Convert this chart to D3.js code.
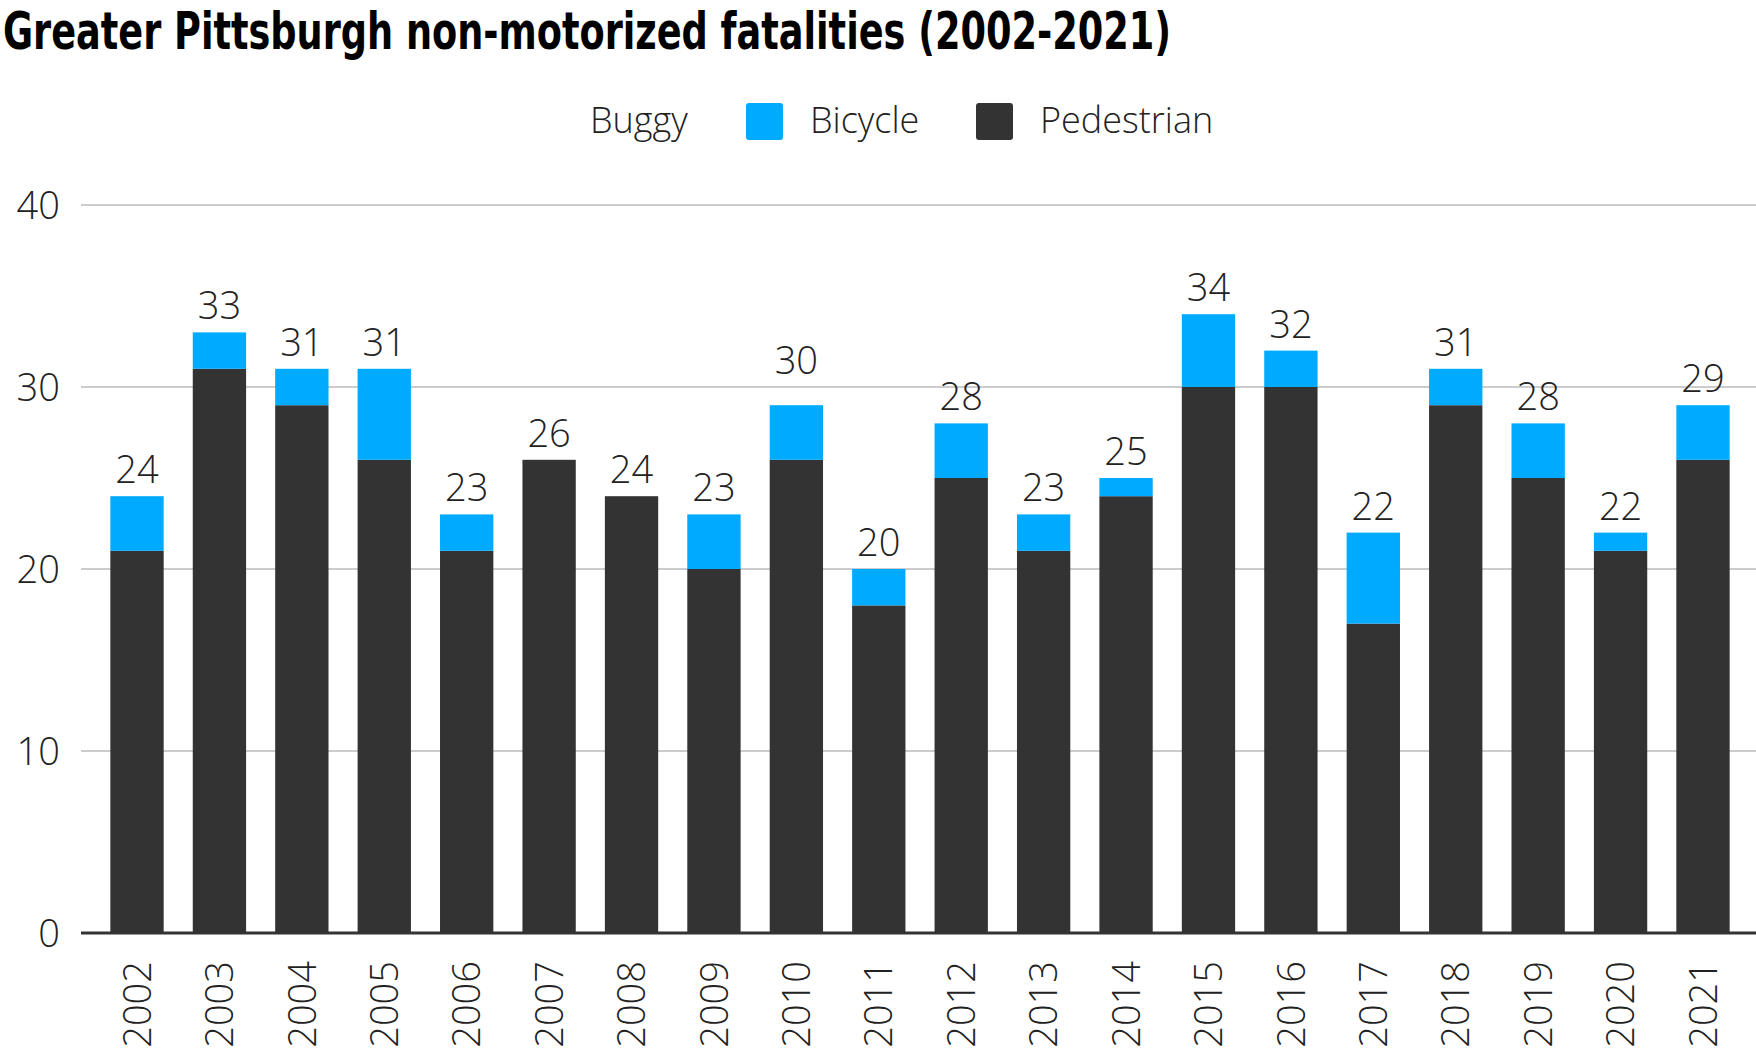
<!DOCTYPE html>
<html>
<head>
	<meta charset="utf-8">
	<title>Greater Pittsburgh non-motorized fatalities</title>
	<script src="https://d3js.org/d3.v7.min.js"></script>
	<style>
		body { margin: 0; background: #fff; }
		text { font-family: "Open Sans", sans-serif; font-weight: 300; fill: #222; }
	</style>
</head>
<body>
	<svg width="1756" height="1057"></svg>
	<script>
		// data
		const years = ["2002","2003","2004","2005","2006","2007","2008","2009","2010","2011",
		               "2012","2013","2014","2015","2016","2017","2018","2019","2020","2021"];
		const pedestrian = [21,31,29,26,21,26,24,20,26,18,25,21,24,30,30,17,29,25,21,26];
		const bicycle    = [3,2,2,5,2,0,0,3,3,2,3,2,1,4,2,5,2,3,1,3];
		const buggy      = [0,0,0,0,0,0,0,0,1,0,0,0,0,0,0,0,0,0,0,0];
		const yTicks = [0, 10, 20, 30, 40];

		const seriesKeys = ["Pedestrian", "Bicycle", "Buggy"];
		// buggy has no visible colour in the original
		const colors = { Pedestrian: "#333333", Bicycle: "#00aaff", Buggy: "none" };
		const legendOrder = ["Buggy", "Bicycle", "Pedestrian"];
		const legendX = [526, 746, 976];

		const rows = years.map((y, i) => ({
			year: y, Pedestrian: pedestrian[i], Bicycle: bicycle[i], Buggy: buggy[i]
		}));

		const svg = d3.select("svg");

		// title
		svg.append("text")
			.attr("x", 3)
			.attr("y", 49)
			.attr("textLength", 1168)
			.attr("lengthAdjust", "spacingAndGlyphs")
			.style("font-family", "'Liberation Sans Narrow', 'DejaVu Sans Condensed', 'Roboto Condensed', sans-serif")
			.style("font-weight", 700)
			.style("font-size", "52px")
			.style("fill", "#000")
			.text("Greater Pittsburgh non-motorized fatalities (2002-2021)");

		// scales
		const x = d3.scaleBand()
			.domain(years)
			.range([81, 1759])
			.paddingInner(0.353)
			.paddingOuter(0.356);

		const y = d3.scaleLinear()
			.domain([0, 40])
			.range([933, 205]);

		// gridlines
		svg.append("g")
			.selectAll("line")
			.data(yTicks.filter(d => d > 0))
			.join("line")
			.attr("x1", 81).attr("x2", 1756)
			.attr("y1", d => y(d)).attr("y2", d => y(d))
			.attr("stroke", "#cccccc")
			.attr("stroke-width", 2);

		// y labels
		const yAxis = svg.append("g")
			.attr("transform", "translate(60,0)")
			.call(d3.axisLeft(y).tickValues(yTicks).tickSize(0).tickPadding(0));
		yAxis.select(".domain").remove();
		yAxis.selectAll("text")
			.style("font-size", "38px")
			.attr("dy", "0.36em");

		// stacked bars
		const stacked = d3.stack().keys(seriesKeys)(rows);

		svg.append("g")
			.selectAll("g")
			.data(stacked)
			.join("g")
			.attr("fill", d => colors[d.key])
			.selectAll("rect")
			.data(d => d)
			.join("rect")
			.attr("x", d => x(d.data.year))
			.attr("width", x.bandwidth())
			.attr("y", d => y(d[1]))
			.attr("height", d => y(d[0]) - y(d[1]));

		// zero line
		svg.append("line")
			.attr("x1", 81).attr("x2", 1756)
			.attr("y1", y(0)).attr("y2", y(0))
			.attr("stroke", "#333")
			.attr("stroke-width", 3);

		// totals above bars
		svg.append("g")
			.selectAll("text")
			.data(rows)
			.join("text")
			.attr("x", d => x(d.year) + x.bandwidth() / 2)
			.attr("y", d => y(d.Pedestrian + d.Bicycle + d.Buggy) - 13)
			.attr("text-anchor", "middle")
			.style("font-size", "38px")
			.text(d => d.Pedestrian + d.Bicycle + d.Buggy);

		// x labels, rotated
		const xAxis = svg.append("g")
			.attr("transform", "translate(0,961)")
			.call(d3.axisBottom(x).tickSize(0).tickPadding(0));
		xAxis.select(".domain").remove();
		xAxis.selectAll("text")
			.style("font-size", "38px")
			.attr("text-anchor", "end")
			.attr("transform", "rotate(-90)")
			.attr("x", 0)
			.attr("y", 0)
			.attr("dy", "0.36em");

		// legend
		const legend = svg.append("g");
		legendOrder.forEach((key, i) => {
			legend.append("rect")
				.attr("x", legendX[i]).attr("y", 103)
				.attr("width", 37).attr("height", 37)
				.attr("rx", 3)
				.attr("fill", colors[key]);
			legend.append("text")
				.attr("x", legendX[i] + 64)
				.attr("y", 133)
				.style("font-size", "36px")
				.text(key);
		});
	</script>
</body>
</html>
